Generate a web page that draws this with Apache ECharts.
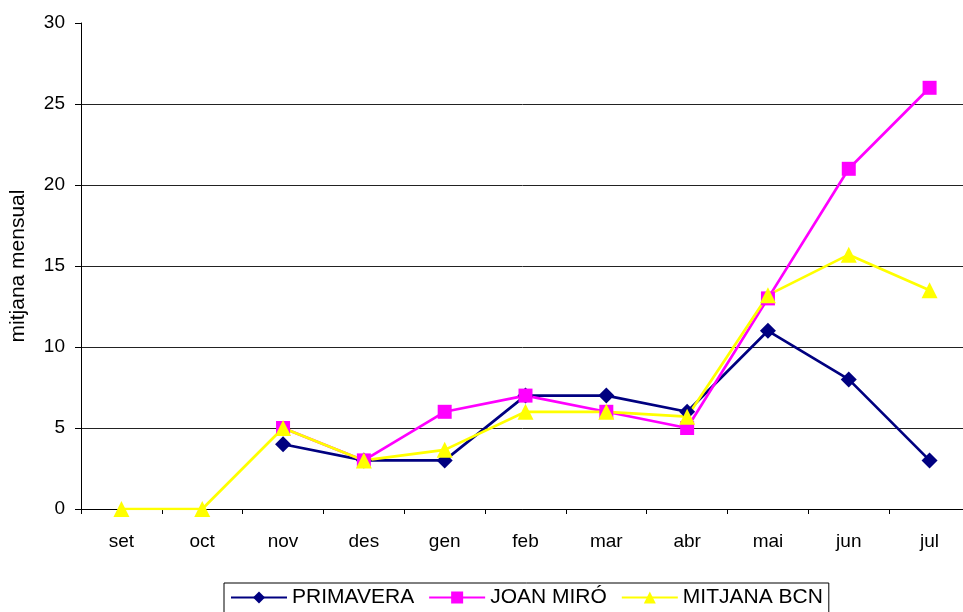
<!DOCTYPE html>
<html>
<head>
<meta charset="utf-8">
<script src="https://cdn.jsdelivr.net/npm/echarts@6/dist/echarts.min.js"></script>
<style>
    html, body { margin: 0; padding: 0; background: #fff; }
    #chart { width: 963px; height: 612px; }
</style>
</head>
<body>
<div id="chart"></div>
<script>
// mesos del curs
var months = ['set', 'oct', 'nov', 'des', 'gen', 'feb', 'mar', 'abr', 'mai', 'jun', 'jul'];
var primavera = [null, null, 4, 3, 3, 7, 7, 6, 11, 8, 3];
var joanMiro = [null, null, 5, 3, 6, 7, 6, 5, 13, 21, 26];
var mitjanaBcn = [0, 0, 5, 3, 3.65, 6, 6, 5.7, 13.2, 15.7, 13.5];
var yTicks = [0, 5, 10, 15, 20, 25, 30];

var chart = echarts.init(document.getElementById('chart'));
var font = 'Liberation Sans, Arial, sans-serif';

chart.setOption({
    animation: false,
    grid: {
        left: 81,
        top: 23,
        width: 889,
        height: 486,
        outerBoundsMode: 'none'
    },
    xAxis: {
        type: 'category',
        data: months,
        boundaryGap: true,
        axisLine: { lineStyle: { color: '#000', width: 1 } },
        axisTick: { show: true, length: 5, lineStyle: { color: '#000' } },
        axisLabel: { color: '#000', fontSize: 19, fontFamily: font, margin: 23 },
        splitLine: { show: false }
    },
    yAxis: {
        type: 'value',
        min: yTicks[0],
        max: yTicks[yTicks.length - 1],
        interval: 5,
        name: 'mitjana mensual',
        nameLocation: 'middle',
        nameRotate: 90,
        nameGap: 52,
        nameTextStyle: { color: '#000', fontSize: 21, fontFamily: font },
        axisLine: { show: true, lineStyle: { color: '#000', width: 1 } },
        axisTick: { show: true, length: 6, lineStyle: { color: '#000' } },
        axisLabel: { color: '#000', fontSize: 19, fontFamily: font, margin: 16 },
        splitLine: {
            show: true,
            lineStyle: { color: ['#222', '#222', '#222', '#222', '#222', '#222', 'transparent'], width: 1 }
        }
    },
    legend: {
        top: 583,
        left: 224,
        itemWidth: 56,
        itemHeight: 15,
        itemGap: 14,
        padding: [4, 6, 12, 6],
        borderColor: '#000',
        borderWidth: 1,
        textStyle: { color: '#000', fontSize: 21, fontFamily: font },
        data: ['PRIMAVERA', 'JOAN MIRÓ', 'MITJANA BCN']
    },
    series: [
        {
            name: 'PRIMAVERA',
            type: 'line',
            data: primavera,
            symbol: 'diamond',
            symbolSize: 16,
            lineStyle: { color: '#000080', width: 2.7 },
            itemStyle: { color: '#000080' }
        },
        {
            name: 'JOAN MIRÓ',
            type: 'line',
            data: joanMiro,
            symbol: 'rect',
            symbolSize: 14,
            lineStyle: { color: '#ff00ff', width: 2.7 },
            itemStyle: { color: '#ff00ff' }
        },
        {
            name: 'MITJANA BCN',
            type: 'line',
            data: mitjanaBcn,
            symbol: 'triangle',
            symbolSize: 16,
            lineStyle: { color: '#ffff00', width: 2.7 },
            itemStyle: { color: '#ffff00' }
        }
    ]
});
</script>
</body>
</html>
